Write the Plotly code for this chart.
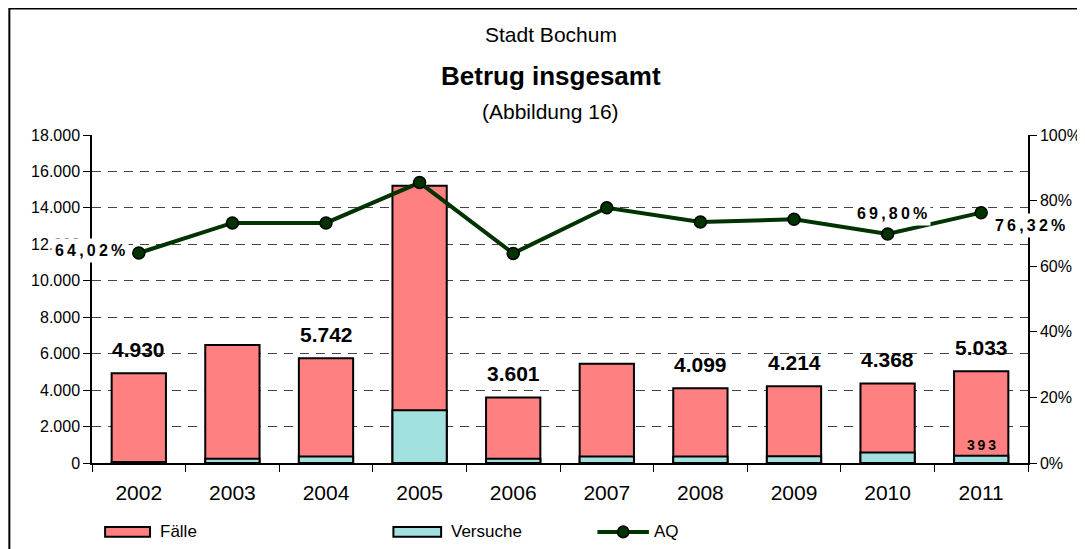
import plotly.graph_objects as go

years = ["2002", "2003", "2004", "2005", "2006", "2007", "2008", "2009", "2010", "2011"]
faelle = [4930, 6480, 5742, 15220, 3601, 5440, 4099, 4214, 4368, 5033]
versuche = [60, 230, 360, 2890, 230, 360, 350, 370, 570, 393]
aq = [0.6402, 0.732, 0.732, 0.855, 0.639, 0.778, 0.735, 0.743, 0.698, 0.7632]

# which values get a printed label (as in the original)
faelle_labeled = ["2002", "2004", "2006", "2008", "2009", "2010", "2011"]
aq_labeled = {"2002": (-49, 3), "2010": (4, 21), "2011": (49, -13)}
versuche_labeled = ["2011"]

PINK = "#FF8080"
CYAN = "#A3E0E0"
GREEN = "#003300"
FONT = "Liberation Sans, Arial, sans-serif"


def de_int(v):
    return f"{v:,}".replace(",", ".")


def spaced(s):
    return "\u2009".join(s)


fig = go.Figure()
fig.add_trace(go.Bar(x=years, y=faelle, name="Fälle", marker=dict(color=PINK, line=dict(color="black", width=2))))
fig.add_trace(go.Bar(x=years, y=versuche, name="Versuche", marker=dict(color=CYAN, line=dict(color="black", width=2))))
fig.add_trace(
    go.Scatter(
        x=years, y=aq, name="AQ", yaxis="y2", mode="lines+markers",
        line=dict(color=GREEN, width=4),
        marker=dict(size=12, color=GREEN, line=dict(color="black", width=1.5)),
    )
)

annotations = []
# annotation x on a category axis: use the category index
for i, (yr, v) in enumerate(zip(years, faelle)):
    if yr in faelle_labeled:
        annotations.append(dict(x=i, y=v, text=de_int(v), showarrow=False, yanchor="middle", yshift=24,
                                font=dict(size=21, color="black", family=FONT, weight="bold")))
for i, (yr, v) in enumerate(zip(years, versuche)):
    if yr in versuche_labeled:
        annotations.append(dict(x=i, y=v, text=spaced(str(v)), showarrow=False, yanchor="bottom", yshift=1,
                                font=dict(size=14, color="black", family=FONT, weight="bold")))
for i, (yr, v) in enumerate(zip(years, aq)):
    if yr in aq_labeled:
        dx, dy = aq_labeled[yr]
        txt = spaced(f"{v * 100:.2f}".replace(".", ",") + "%")
        annotations.append(dict(x=i, y=v, yref="y2", text=txt, showarrow=False, xshift=dx, yshift=dy,
                                bgcolor="white", borderpad=3,
                                font=dict(size=16, color="black", family=FONT, weight="bold")))

# titles
for y, text, size, weight in [(1.305, "Stadt Bochum", 21, "normal"),
                              (1.180, "Betrug insgesamt", 26, "bold"),
                              (1.073, "(Abbildung 16)", 21, "normal")]:
    annotations.append(dict(x=0.49, y=y, xref="paper", yref="paper", text=text, showarrow=False,
                            xanchor="center", yanchor="middle",
                            font=dict(size=size, family=FONT, color="black", weight=weight)))

# hand-drawn legend (wide swatches like the original)
leg_y = -0.21
shapes = [
    dict(type="rect", xref="paper", yref="paper", x0=-0.0883, x1=1.0543, y0=-0.35, y1=1.386,
         line=dict(color="black", width=2), fillcolor="rgba(0,0,0,0)", layer="below"),
    dict(type="rect", xref="paper", yref="paper", x0=0.014, x1=0.062, y0=leg_y - 0.015, y1=leg_y + 0.015,
         fillcolor=PINK, line=dict(color="black", width=2)),
    dict(type="rect", xref="paper", yref="paper", x0=0.322, x1=0.373, y0=leg_y - 0.015, y1=leg_y + 0.015,
         fillcolor=CYAN, line=dict(color="black", width=2)),
    dict(type="line", xref="paper", yref="paper", x0=0.540, x1=0.595, y0=leg_y, y1=leg_y,
         line=dict(color=GREEN, width=4)),
    dict(type="circle", xref="paper", yref="paper", x0=0.5615, x1=0.5735, y0=leg_y - 0.018, y1=leg_y + 0.018,
         fillcolor=GREEN, line=dict(color="black", width=1.5)),
]
for x, name in [(0.070, "Fälle"), (0.381, "Versuche"), (0.598, "AQ")]:
    annotations.append(dict(x=x, y=leg_y, xref="paper", yref="paper", text=name, showarrow=False,
                            xanchor="left", yanchor="middle", font=dict(size=17, family=FONT, color="black")))

# margins allow for the page's 8px body margin
fig.update_layout(
    width=1085, height=549,
    margin=dict(l=84, r=61, t=127, b=94),
    paper_bgcolor="white", plot_bgcolor="white",
    barmode="overlay", bargap=0.42,
    separators=",.",
    showlegend=False,
    font=dict(family=FONT, color="black"),
    xaxis=dict(
        type="category", range=[-0.5, len(years) - 0.5], showline=True, linecolor="black", linewidth=1.5,
        ticks="outside", ticklen=7, tickcolor="black", tickson="boundaries", tickangle=0,
        ticklabelstandoff=10, tickfont=dict(size=21), showgrid=False,
    ),
    yaxis=dict(
        range=[0, 18000], dtick=2000, tickformat=",d",
        showline=True, linecolor="black", linewidth=1.5,
        ticks="outside", ticklen=7, tickcolor="black",
        showgrid=True, gridcolor="#444", griddash="9px,7px", gridwidth=1,
        zeroline=False, tickfont=dict(size=16),
    ),
    yaxis2=dict(
        overlaying="y", side="right", range=[0, 1], dtick=0.2, tickformat=".0%",
        showline=True, linecolor="black", linewidth=1.5,
        ticks="outside", ticklen=7, tickcolor="black",
        showgrid=False, zeroline=False, tickfont=dict(size=16),
    ),
    annotations=annotations,
    shapes=shapes,
)

fig.write_html("out.html")
